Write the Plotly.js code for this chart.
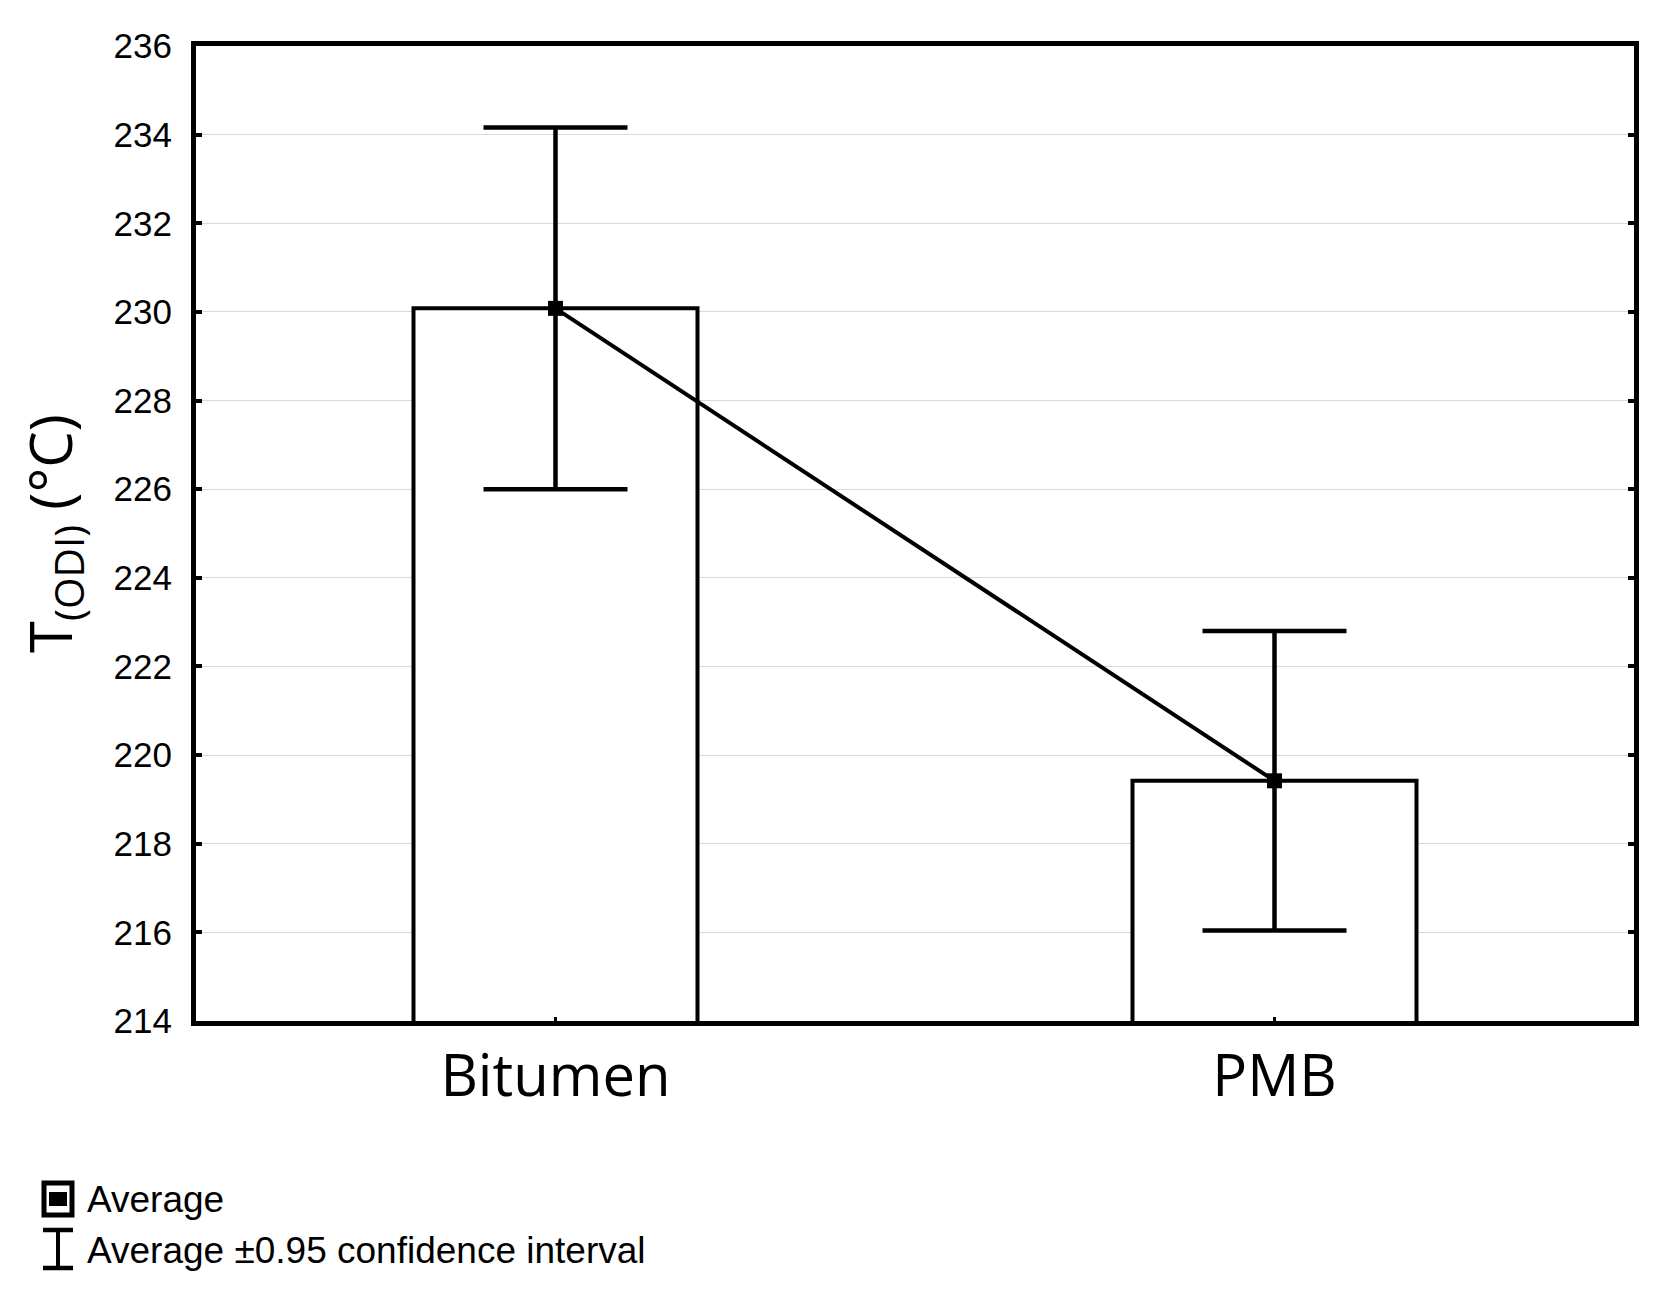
<!DOCTYPE html>
<html>
<head>
<meta charset="utf-8">
<script src="https://cdn.plot.ly/plotly-3.0.1.min.js"></script>
<style>
  html, body { margin: 0; padding: 0; background: #fff; }
  #chart { width: 1662px; height: 1298px; }
</style>
</head>
<body>
<div id="chart"></div>
<script>
const categories = ['Bitumen', 'PMB'];
const averages = [230.08, 219.42];
const ciHalfWidth = [4.08, 3.38];
const yTicks = [214, 216, 218, 220, 222, 224, 226, 228, 230, 232, 234, 236];
const legendLabels = ['Average', 'Average ±0.95 confidence interval'];

const W = 1662;
const H = 1298;
const margin = { l: 196, r: 28, t: 46, b: 277 };
const plotW = W - margin.l - margin.r;
const plotH = H - margin.t - margin.b;

// the legend sits under the plot, so place it with page pixels turned into paper units
const px = (x) => (x - margin.l) / plotW;
const py = (y) => (H - margin.b - y) / plotH;

const tickFont = { family: 'Liberation Sans, Arial, sans-serif', size: 35, color: '#000' };
const legendFont = { ...tickFont, size: 37 };
const bigFont = { family: 'Open Sans, sans-serif', size: 58, color: '#000' };

const traces = [
  {
    type: 'bar',
    x: categories,
    y: averages,
    width: 0.395,
    marker: { color: '#fff', line: { color: '#000', width: 4 } },
    hoverinfo: 'skip',
  },
  {
    type: 'scatter',
    mode: 'lines+markers',
    x: categories,
    y: averages,
    line: { color: '#000', width: 4 },
    marker: { symbol: 'square', size: 15, color: '#000' },
    error_y: { type: 'data', array: ciHalfWidth, visible: true, color: '#000', thickness: 4.5, width: 72 },
  },
];

const line = (x0, y0, x1, y1, w) => ({
  type: 'line', xref: 'paper', yref: 'paper',
  x0: px(x0), y0: py(y0), x1: px(x1), y1: py(y1),
  line: { color: '#000', width: w },
});

const shapes = [
  {
    type: 'rect', xref: 'paper', yref: 'paper',
    x0: px(44), x1: px(72), y0: py(1183), y1: py(1215),
    fillcolor: '#fff', line: { color: '#000', width: 5 },
  },
  {
    type: 'rect', xref: 'paper', yref: 'paper',
    x0: px(49), x1: px(67), y0: py(1192), y1: py(1206),
    fillcolor: '#000', line: { width: 0 },
  },
  line(43, 1230, 73, 1230, 4.5),
  line(43, 1268, 73, 1268, 4.5),
  line(58, 1230, 58, 1268, 4),
];

const annotations = legendLabels.map((text, i) => ({
  text,
  xref: 'paper', yref: 'paper',
  x: px(85), y: py(i === 0 ? 1199 : 1250),
  xanchor: 'left', yanchor: 'middle',
  showarrow: false,
  font: legendFont,
}));

const layout = {
  width: W,
  height: H,
  margin: { ...margin, pad: 0 },
  paper_bgcolor: '#fff',
  plot_bgcolor: '#fff',
  showlegend: false,
  bargap: 0,
  xaxis: {
    type: 'category',
    range: [-0.5, 1.5],
    showline: true, mirror: true, linecolor: '#000', linewidth: 5,
    ticks: 'inside', ticklen: 4, tickwidth: 3, tickcolor: '#000',
    showgrid: false, zeroline: false,
    tickfont: bigFont,
    ticklabelstandoff: 0,
  },
  yaxis: {
    range: [214, 236],
    tickvals: yTicks,
    showline: true, mirror: 'ticks', linecolor: '#000', linewidth: 5,
    ticks: 'inside', ticklen: 6, tickwidth: 4, tickcolor: '#000',
    showgrid: true, gridcolor: '#d9d9d9', gridwidth: 1,
    zeroline: false,
    tickfont: tickFont,
    ticklabelstandoff: 12,
    title: { text: 'T<sub>(ODI)</sub> (°C)', font: bigFont, standoff: 24 },
  },
  shapes,
  annotations,
};

Plotly.newPlot('chart', traces, layout, { staticPlot: true, displayModeBar: false });
</script>
</body>
</html>
